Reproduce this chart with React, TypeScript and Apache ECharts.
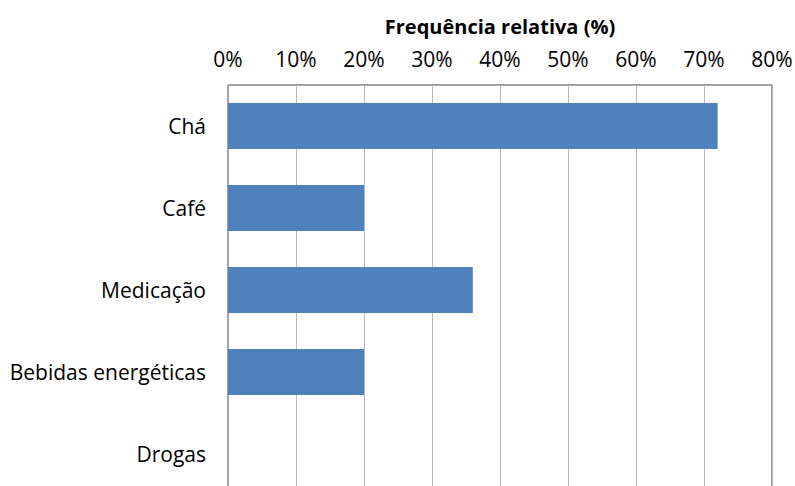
import React, { useEffect, useRef } from "react";
import * as echarts from "echarts";

const categories = ["Chá", "Café", "Medicação", "Bebidas energéticas", "Drogas"];
const values = [72, 20, 36, 20, 0];
const axisTitle = "Frequência relativa (%)";

export default function App() {
  const ref = useRef<HTMLDivElement>(null);
  useEffect(() => {
    if (!ref.current) return;
    const chart = echarts.init(ref.current, undefined, { renderer: "svg" });
    const font = "'Open Sans', 'Noto Sans', sans-serif";
    chart.setOption({
      animation: false,
      backgroundColor: "#ffffff",
      grid: {
        left: 228,
        top: 85,
        width: 544,
        height: 410,
        outerBoundsMode: "none",
        containLabel: false,
        show: true,
        borderColor: "#404040",
        borderWidth: 1,
        backgroundColor: "transparent",
      },
      xAxis: {
        type: "value",
        position: "top",
        min: 0,
        max: 80,
        interval: 10,
        name: axisTitle,
        nameLocation: "middle",
        nameGap: 49,
        nameTextStyle: { fontFamily: font, fontSize: 20, fontWeight: "bold", color: "#000" },
        axisLabel: { formatter: "{value}%", fontFamily: font, fontSize: 21, color: "#000", margin: 16 },
        axisLine: { show: true, lineStyle: { color: "#a6a6a6", width: 1 } },
        axisTick: { show: false },
        splitLine: { show: true, lineStyle: { color: "#b8b8b8", width: 1 } },
      },
      yAxis: {
        type: "category",
        data: categories,
        inverse: true,
        axisLabel: { fontFamily: font, fontSize: 21, color: "#000", margin: 22 },
        axisLine: { show: true, lineStyle: { color: "#a6a6a6", width: 1 } },
        axisTick: { show: false },
        splitLine: { show: false },
      },
      series: [
        {
          type: "bar",
          data: values,
          barWidth: "56%",
          itemStyle: { color: "#4F81BD" },
        },
      ],
    });
    return () => chart.dispose();
  }, []);
  return (
    <div
      ref={ref}
      style={{ position: "fixed", left: 0, top: 0, width: 795, height: 486, background: "#fff" }}
    />
  );
}
